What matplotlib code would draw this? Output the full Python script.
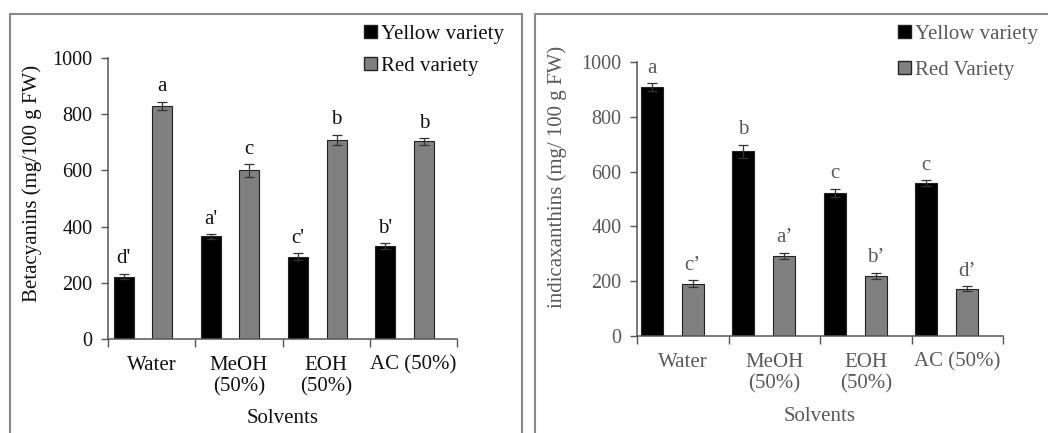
"""
betalain content of yellow and red varieties per extraction solvent
"""
import matplotlib
matplotlib.use('Agg')
import matplotlib.pyplot as plt
from matplotlib.patches import Patch, Rectangle
import numpy as np

plt.rcParams['font.family'] = ['Liberation Serif', 'DejaVu Serif']

solvents = ['Water', 'MeOH\n(50%)', 'EOH\n(50%)', 'AC (50%)']

# betacyanins (mg/100 g FW)
bc_yellow = [222, 365, 293, 331]
bc_yellow_err = [10, 8, 12, 9]
bc_red = [830, 600, 709, 703]
bc_red_err = [15, 22, 17, 12]
bc_yellow_letters = ["d'", "a'", "c'", "b'"]
bc_red_letters = ['a', 'c', 'b', 'b']

# indicaxanthins (mg/ 100 g FW)
ix_yellow = [909, 674, 522, 558]
ix_yellow_err = [14, 23, 16, 10]
ix_red = [191, 292, 219, 173]
ix_red_err = [12, 11, 11, 9]
ix_yellow_letters = ['a', 'b', 'c', 'c']
ix_red_letters = ['c\u2019', 'a\u2019', 'b\u2019', 'd\u2019']

W, H = 1048, 433
FS = 15
fig = plt.figure(figsize=(W / 100, H / 100), dpi=100)


def px_axes(x0, x1, y_top, y_bot):
    return fig.add_axes([x0 / W, 1 - y_bot / H, (x1 - x0) / W, (y_bot - y_top) / H])


def panel(ax, yellow, yerr, red, rerr, ylet, rlet, ylabel, legend_labels,
          txt, off_y, off_r, width, lab_xy, leg_anchor, leg_space):
    x = np.arange(len(solvents))
    ekw = dict(ecolor='#333333', elinewidth=0.9, capsize=3.5, capthick=0.9)
    ax.bar(x + off_y, yellow, width, color='black', edgecolor='#222222',
           linewidth=0.8, yerr=yerr, error_kw=ekw)
    ax.bar(x + off_r, red, width, color='#808080', edgecolor='#222222',
           linewidth=0.8, yerr=rerr, error_kw=ekw)
    for i in range(len(x)):
        ax.annotate(ylet[i], (x[i] + off_y, yellow[i] + yerr[i]), xytext=(0, 4),
                    textcoords='offset points', ha='center', va='bottom',
                    fontsize=FS, color=txt)
        ax.annotate(rlet[i], (x[i] + off_r, red[i] + rerr[i]), xytext=(0, 4),
                    textcoords='offset points', ha='center', va='bottom',
                    fontsize=FS, color=txt)
    ax.set_xlim(-0.5, len(x) - 0.5)
    ax.set_ylim(0, 1000)
    ax.set_yticks(range(0, 1001, 200))
    ax.set_xticks(np.arange(len(x) + 1) - 0.5)
    ax.set_xticklabels([])
    ax.set_xticks(x, minor=True)
    ax.set_xticklabels(solvents, minor=True)
    ax.tick_params(axis='x', which='major', direction='out', length=6,
                   width=1, color='#555555')
    ax.tick_params(axis='x', which='minor', length=0, pad=12,
                   labelsize=FS, labelcolor=txt)
    ax.tick_params(axis='y', direction='out', length=5, width=1,
                   color='#555555', labelsize=14.5, labelcolor=txt, pad=6)
    for s in ['top', 'right']:
        ax.spines[s].set_visible(False)
    for s in ['left', 'bottom']:
        ax.spines[s].set_color('#555555')
        ax.spines[s].set_linewidth(1.1)
    ax.set_xlabel('Solvents', fontsize=FS, color=txt)
    ax.xaxis.set_label_coords(0.5, lab_xy[2])
    ax.set_ylabel(ylabel, fontsize=FS, color=txt)
    ax.yaxis.set_label_coords(lab_xy[0], lab_xy[1])
    handles = [Patch(facecolor='black', edgecolor='#222222'),
               Patch(facecolor='#808080', edgecolor='#222222')]
    leg = fig.legend(handles, legend_labels, loc='upper left',
                     bbox_to_anchor=leg_anchor, frameon=False, fontsize=FS,
                     handlelength=0.6, handleheight=0.6, handletextpad=0.2,
                     labelspacing=leg_space, borderaxespad=0, borderpad=0)
    for t in leg.get_texts():
        t.set_color(txt)


# panel frames
fig.patches.append(Rectangle((10 / W, -0.1), 512 / W, 1.1 - 14 / H,
                             transform=fig.transFigure, fill=False,
                             edgecolor='#8a8a8a', linewidth=1.5))
fig.patches.append(Rectangle((535 / W, -0.1), 600 / W, 1.1 - 14 / H,
                             transform=fig.transFigure, fill=False,
                             edgecolor='#8a8a8a', linewidth=1.5))

ax1 = px_axes(108, 457, 58, 339)
panel(ax1, bc_yellow, bc_yellow_err, bc_red, bc_red_err,
      bc_yellow_letters, bc_red_letters, 'Betacyanins (mg/100 g FW)',
      ['Yellow variety', 'Red variety'], '#111111', -0.32, 0.12, 0.23,
      (-0.19, 0.555, -0.25), (364 / W, 1 - 25 / H), 0.6)

ax2 = px_axes(637, 1003, 62, 336)
panel(ax2, ix_yellow, ix_yellow_err, ix_red, ix_red_err,
      ix_yellow_letters, ix_red_letters, 'indicaxanthins (mg/ 100 g FW)',
      ['Yellow variety', 'Red Variety'], '#595959', -0.34, 0.11, 0.24,
      (-0.19, 0.58, -0.26), (898 / W, 1 - 25 / H), 0.8)

fig.savefig('out.png', dpi=100)
